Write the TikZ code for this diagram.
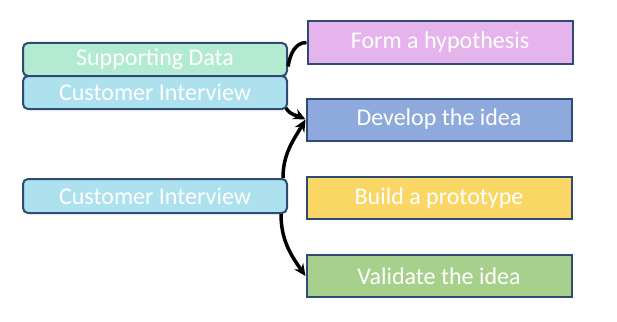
\documentclass[tikz,border=0pt]{standalone}
\usepackage{fontspec}
\setmainfont{Carlito}
\usetikzlibrary{arrows.meta}
\definecolor{boxline}{HTML}{2F4B73}
\definecolor{formfill}{HTML}{E5B4EC}
\definecolor{devfill}{HTML}{8EA9DB}
\definecolor{buildfill}{HTML}{FAD665}
\definecolor{validfill}{HTML}{A8D08D}
\definecolor{suppfill}{HTML}{B2EBD2}
\definecolor{intfill}{HTML}{ADE1EE}

\begin{document}
\begin{tikzpicture}[x=1pt, y=1pt, line width=2pt,
    stage/.style={draw=boxline, minimum width=265pt, minimum height=42pt, inner sep=0pt,
        text=white, font=\fontsize{24}{27}\selectfont},
    source/.style={stage, rounded corners=5pt, minimum width=264pt, minimum height=33pt},
    flow/.style={line width=3.5pt, -{Stealth[length=12pt,width=11pt]}}]
    \useasboundingbox (0,0) rectangle (617,-321);
    % steps on the right
    \node[stage, fill=formfill] (form) at (440,-42.5) {Form a hypothesis};
    \node[stage, fill=devfill] (dev) at (439,-119.5) {Develop the idea};
    \node[stage, fill=buildfill] (build) at (439,-198) {Build a prototype};
    \node[stage, fill=validfill] (valid) at (439,-276) {Validate the idea};
    % inputs on the left
    \node[source, fill=suppfill] (supp) at (155,-59.5) {Supporting Data};
    \node[source, fill=intfill] (intA) at (155,-92.5) {Customer Interview};
    \node[source, fill=intfill, minimum height=34pt] (intB) at (155,-196) {Customer Interview};
    % connectors
    \draw[line width=3.5pt] (form.west) to[out=180, in=80] ([yshift=-7pt]supp.east);
    \draw[flow] ([xshift=-2pt, yshift=2pt]intA.south east) to[out=-60, in=153] (dev.west);
    \draw[flow] ([xshift=-5pt]intB.north east) to[out=90, in=-120] (dev.west);
    \draw[flow] ([xshift=-7pt]intB.south east) to[out=-90, in=125] (valid.west);
\end{tikzpicture}
\end{document}
